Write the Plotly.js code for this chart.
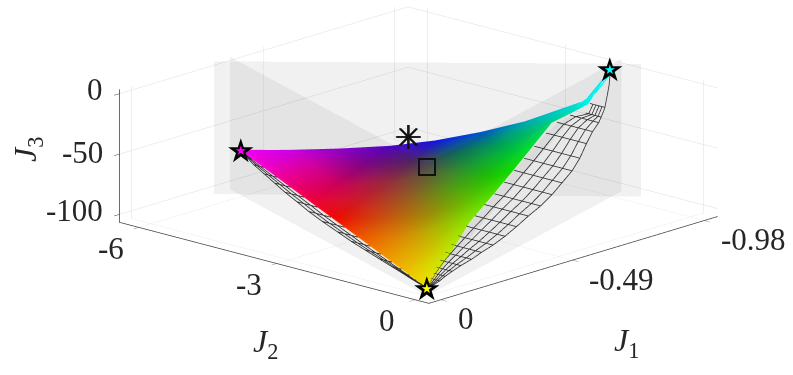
<!DOCTYPE html>
<html><head><meta charset="utf-8"><script src="https://cdn.plot.ly/plotly-3.0.1.min.js"></script>
<style>html,body{margin:0;padding:0;background:#fff}#c{width:793px;height:375px}</style></head><body><div id="c"></div>
<script>
// Extreme solutions (stars), ideal point (asterisk), nadir point (square)
const starJ1=[-0.333,0,-0.98], starJ2=[-6,0,-1.74], starJ3=[-68,-100,-2];
const starColors=['#ff00ff','#ffff00','#00ffff'];
const utopiaJ=[-0.98,-6.1,-100], nadirJ=[0,0,0];
// Translucent vertical planes through pairs of extreme solutions
const rectJ1=[-0.305,-1.029,-1.029,-0.305], rectJ2=[-6.41,-1.36,-1.36,-6.41], rectJ3=[-106.5,-106.5,3.4,3.4];
const sideLJ1=[-0.364,0,0,-0.364], sideLJ2=[-6.41,0,0,-6.41], sideLJ3=[-106.5,-106.5,3.4,3.4];
const sideRJ1=[-1.029,0,0,-1.029], sideRJ2=[-1.78,0,0,-1.78], sideRJ3=[-106.5,-106.5,3.4,3.4];
// Coloured front, triangular lattice listed row by row
const frontJ1=[0,
-0.0416,-0.142,
-0.083,-0.138,-0.282,
-0.125,-0.177,-0.261,-0.398,
-0.1665,-0.217,-0.277,-0.368,-0.514,
-0.208,-0.258,-0.315,-0.39,-0.475,-0.625,
-0.25,-0.299,-0.354,-0.418,-0.494,-0.579,-0.735,
-0.291,-0.34,-0.394,-0.453,-0.522,-0.597,-0.686,-0.83,
-0.333,-0.382,-0.434,-0.491,-0.553,-0.627,-0.709,-0.842,-0.98];
const frontJ2=[0,
-0.75,-0.347,
-1.5,-0.764,-0.727,
-2.25,-1.47,-1.019,-0.924,
-3,-2.209,-1.528,-1.21,-1.138,
-3.75,-2.956,-2.217,-1.75,-1.397,-1.347,
-4.5,-3.704,-2.94,-2.373,-1.911,-1.572,-1.555,
-5.25,-4.452,-3.677,-2.98,-2.457,-2.01,-1.623,-1.35,
-6,-5.199,-4.419,-3.67,-3.056,-2.507,-2.01,-1.485,-1.74];
const frontJ3=[-100,
-96,-85.8,
-92,-86.3,-71.8,
-88,-82.6,-74.1,-60.2,
-84,-78.8,-72.6,-63.3,-48.7,
-80,-74.8,-68.9,-61.2,-52.7,-37.6,
-76,-70.9,-65.2,-58.6,-50.8,-42.2,-26.5,
-72,-66.9,-61.3,-55.2,-48.2,-40.5,-31.5,-16.9,
-68,-62.9,-57.5,-51.6,-45.2,-37.7,-29.3,-15.75,-2];
const frontColors=['rgb(255,245,0)',
'rgb(255,195,0)','rgb(205,250,0)',
'rgb(255,145,0)','rgb(225,205,0)','rgb(150,245,0)',
'rgb(255,85,0)','rgb(225,150,5)','rgb(160,210,0)','rgb(85,240,0)',
'rgb(255,10,0)','rgb(215,85,15)','rgb(165,150,10)','rgb(100,205,0)','rgb(15,235,0)',
'rgb(255,0,60)','rgb(215,30,40)','rgb(160,100,35)','rgb(90,165,20)','rgb(30,205,5)','rgb(0,235,55)',
'rgb(255,0,130)','rgb(215,0,95)','rgb(160,45,65)','rgb(100,105,55)','rgb(30,165,50)','rgb(0,205,55)','rgb(0,230,120)',
'rgb(255,0,210)','rgb(225,0,160)','rgb(135,5,135)','rgb(85,40,100)','rgb(20,110,90)','rgb(0,160,100)','rgb(0,205,115)','rgb(0,245,225)',
'rgb(255,0,255)','rgb(215,0,240)','rgb(150,0,215)','rgb(85,5,200)','rgb(20,20,225)','rgb(0,85,205)','rgb(0,175,190)','rgb(0,240,235)','rgb(0,255,255)'];
// Thin upper rim of the coloured front
const rimJ1=[-0.311,-0.36,-0.412,-0.469,-0.531,-0.605,-0.687,-0.741,-0.796,-0.86,-0.917,-0.943];
const rimJ2=[-5.876,-5.076,-4.296,-3.546,-2.936,-2.386,-1.886,-1.549,-1.367,-1.353,-1.467,-1.526];
const rimJ3=[-65.3,-61,-56,-50.3,-44,-36.5,-28,-21.1,-15.5,-9,-3.3,-0.8];
const rimColors=['rgb(255,0,255)','rgb(215,0,240)','rgb(150,0,215)','rgb(85,5,200)','rgb(20,20,225)','rgb(0,85,205)','rgb(0,175,190)','rgb(0,215,215)','rgb(0,240,235)','rgb(0,250,245)','rgb(0,250,250)','rgb(0,255,255)'];
// Grey wire surface, right-hand part: J1 and J3 per row, J2 per row and column
const wireRJ1=[-0.836,-0.797,-0.774,-0.735,-0.685,-0.625,-0.571,-0.517,-0.464,-0.412,-0.363,-0.312,-0.266,-0.222,-0.184,-0.149,-0.115,-0.086,-0.061,-0.039,-0.018,0];
const wireRJ3=[-16.3,-20.2,-22.5,-26.4,-31.4,-37.4,-42.8,-48.2,-53.5,-58.8,-63.7,-68.7,-73.4,-77.8,-81.6,-85.1,-88.4,-91.4,-93.9,-96.1,-98.2,-100];
const wireRJ2=[
[-1.339,-1.273,-1.207,-1.141,-1.076,-1.01],
[-1.207,-1.139,-1.071,-1.002,-0.934,-0.866],
[-1.408,-1.284,-1.16,-1.035,-0.911,-0.787],
[-1.469,-1.314,-1.159,-1.003,-0.848,-0.693],
[-1.413,-1.237,-1.061,-0.886,-0.71,-0.534],
[-1.315,-1.118,-0.92,-0.723,-0.525,-0.328],
[-1.221,-1.013,-0.805,-0.596,-0.388,-0.18],
[-1.127,-0.919,-0.711,-0.502,-0.294,-0.086],
[-1.033,-0.825,-0.617,-0.409,-0.201,0.007],
[-0.94,-0.739,-0.538,-0.338,-0.137,0.064],
[-0.867,-0.677,-0.487,-0.297,-0.107,0.083],
[-0.778,-0.598,-0.418,-0.238,-0.058,0.122],
[-0.711,-0.541,-0.37,-0.2,-0.029,0.141],
[-0.627,-0.474,-0.321,-0.168,-0.015,0.138],
[-0.549,-0.418,-0.286,-0.155,-0.023,0.108],
[-0.477,-0.362,-0.248,-0.133,-0.019,0.096],
[-0.387,-0.297,-0.208,-0.118,-0.029,0.061],
[-0.302,-0.233,-0.164,-0.095,-0.026,0.043],
[-0.223,-0.171,-0.119,-0.068,-0.016,0.036],
[-0.148,-0.109,-0.07,-0.032,0.007,0.046],
[-0.075,-0.053,-0.032,-0.01,0.012,0.033],
[0,0,0,0,0,0]];
// Outer arc from the top of the wire surface to the cyan star
const tipJ1=[-0.835,-0.878,-0.92,-0.965], tipJ2=[-1.01,-1.212,-1.415,-1.654], tipJ3=[-16.35,-12.14,-7.94,-3.5];
// Grey wire surface, left-hand sliver
const wireLJ1=[-0.333,-0.314,-0.292,-0.268,-0.244,-0.22,-0.196,-0.171,-0.147,-0.123,-0.101,-0.082,-0.063,-0.046,-0.031,-0.019,-0.01,0];
const wireLJ3=[-68,-69.85,-71.94,-74.26,-76.58,-78.9,-81.22,-83.53,-85.85,-88.17,-90.26,-92.12,-93.97,-95.59,-96.99,-98.14,-99.07,-100];
const wireLJ2=[
[-6,-6,-6,-6],
[-5.652,-5.687,-5.721,-5.756],
[-5.26,-5.329,-5.399,-5.468],
[-4.826,-4.918,-5.011,-5.103],
[-4.391,-4.506,-4.622,-4.737],
[-3.956,-4.094,-4.233,-4.371],
[-3.521,-3.671,-3.821,-3.971],
[-3.087,-3.248,-3.41,-3.571],
[-2.652,-2.813,-2.975,-3.136],
[-2.217,-2.367,-2.517,-2.667],
[-1.826,-1.964,-2.103,-2.241],
[-1.478,-1.593,-1.709,-1.824],
[-1.13,-1.222,-1.315,-1.407],
[-0.826,-0.895,-0.965,-1.034],
[-0.565,-0.611,-0.657,-0.703],
[-0.348,-0.383,-0.417,-0.452],
[-0.174,-0.197,-0.22,-0.243],
[0,0,0,0]];
// Axes
const ticksJ1=[0,-0.49,-0.98], labelsJ1=['0','-0.49','-0.98'];
const ticksJ2=[0,-3,-6], labelsJ2=['0','-3','-6'];
const ticksJ3=[0,-50,-100], labelsJ3=['0','-50','-100'];
const rangeJ1=[-1.03,0.045], rangeJ2=[-6.42,0.3], rangeJ3=[-106.6,3.5];

const GREY_LINE='rgb(45,45,45)', TXT='rgb(38,38,38)', SERIF='Liberation Serif';
const flat={ambient:1,diffuse:0,specular:0,fresnel:0};
function quad(x,y,z){return {type:'mesh3d',x,y,z,i:[0,0],j:[1,2],k:[2,3],color:'rgb(0,0,0)',opacity:0.055,flatshading:true,lighting:flat,hoverinfo:'skip',showscale:false};}
const ti=[],tj=[],tk=[];const id=(r,c)=>r*(r+1)/2+c;
for(let r=0;r<8;r++)for(let c=0;c<=r;c++){ti.push(id(r,c));tj.push(id(r+1,c));tk.push(id(r+1,c+1));if(c<r){ti.push(id(r,c));tj.push(id(r+1,c+1));tk.push(id(r,c+1));}}
function wireTraces(J1,J2,J3){
  const n=J2[0].length, mx=[],my=[],mz=[],mi=[],mj=[],mk=[],mc=[];
  J2.forEach((row,r)=>row.forEach((v,c)=>{mx.push(J1[r]);my.push(v);mz.push(J3[r]-0.7);mc.push('rgb(232,232,232)');
    if(r<J2.length-1&&c<n-1){const a=r*n+c;mi.push(a,a);mj.push(a+1,a+n+1);mk.push(a+n+1,a+n);}}));
  const out=[{type:'mesh3d',x:mx,y:my,z:mz,i:mi,j:mj,k:mk,vertexcolor:mc,lighting:flat,hoverinfo:'skip',showscale:false}];
  const lx=[],ly=[],lz=[];
  J2.forEach((row,r)=>{row.forEach(v=>{lx.push(J1[r]);ly.push(v);lz.push(J3[r]);});lx.push(null);ly.push(null);lz.push(null);});
  for(let c=1;c<n;c++){J2.forEach((row,r)=>{lx.push(J1[r]);ly.push(row[c]);lz.push(J3[r]);});lx.push(null);ly.push(null);lz.push(null);}
  out.push({type:'scatter3d',mode:'lines',x:lx,y:ly,z:lz,connectgaps:false,line:{color:GREY_LINE,width:1.6},hoverinfo:'skip'});
  return out;
}
const data=[quad(rectJ1,rectJ2,rectJ3),quad(sideLJ1,sideLJ2,sideLJ3),quad(sideRJ1,sideRJ2,sideRJ3),
 ...wireTraces(wireRJ1,wireRJ2,wireRJ3),...wireTraces(wireLJ1,wireLJ2,wireLJ3),
 {type:'scatter3d',mode:'lines',x:tipJ1,y:tipJ2,z:tipJ3,line:{color:GREY_LINE,width:1.6},hoverinfo:'skip'},
 {type:'mesh3d',x:frontJ1,y:frontJ2,z:frontJ3,i:ti,j:tj,k:tk,vertexcolor:frontColors,lighting:flat,hoverinfo:'skip',showscale:false},
 {type:'scatter3d',mode:'lines',x:rimJ1,y:rimJ2,z:rimJ3,line:{color:rimColors,width:2.5},hoverinfo:'skip'}];

const axisCommon={showbackground:false,showspikes:false,zeroline:false,gridcolor:'rgb(222,222,222)',gridwidth:1,showline:true,linecolor:'rgb(60,60,60)',linewidth:1.5,ticks:'outside',ticklen:8,tickcolor:'rgb(60,60,60)',showticklabels:false,autorange:false,title:{text:''}};
const ann=[];
function txt(x,y,z,text,size,dx,dy,extra){ann.push(Object.assign({x,y,z,text,showarrow:false,xanchor:'center',yanchor:'middle',xshift:dx,yshift:-dy,font:{family:SERIF,size,color:TXT}},extra||{}));}
ticksJ1.forEach((v,i)=>txt(v,rangeJ2[1],rangeJ3[0],labelsJ1[i],31,i==0?25:49,19));
ticksJ2.forEach((v,i)=>txt(rangeJ1[1],v,rangeJ3[0],labelsJ2[i],31,-28,21));
ticksJ3.forEach((v,i)=>txt(rangeJ1[1],rangeJ2[0],v,labelsJ3[i],31,-15,i==1?-2:-4,{xanchor:'right'}));
txt(-0.49,rangeJ2[1],rangeJ3[0],'<i>J</i><sub>1</sub>',32,54,82);
txt(rangeJ1[1],-3,rangeJ3[0],'<i>J</i><sub>2</sub>',32,-12,80);
txt(rangeJ1[1],rangeJ2[0],-50,'<i>J</i><sub>3</sub>',32,-93,-5,{textangle:-90});
starJ1.forEach((v,i)=>{
  ann.push({x:v,y:starJ2[i],z:starJ3[i],text:'★',showarrow:false,xanchor:'center',yanchor:'middle',font:{family:'DejaVu Sans',size:33,color:'#000'}});
  ann.push({x:v,y:starJ2[i],z:starJ3[i],text:'★',showarrow:false,xanchor:'center',yanchor:'middle',font:{family:'DejaVu Sans',size:13,color:starColors[i]}});
});
[-0.3,0.3].forEach(s=>ann.push({x:utopiaJ[0],y:utopiaJ[1],z:utopiaJ[2],text:'✳',showarrow:false,xanchor:'center',yanchor:'middle',xshift:s-1,yshift:-2,font:{family:'DejaVu Sans',size:33,color:'#111'}}));
ann.push({x:nadirJ[0],y:nadirJ[1],z:nadirJ[2],text:'&nbsp;',showarrow:false,xanchor:'center',yanchor:'middle',width:14,height:14,borderpad:0,borderwidth:2,bordercolor:'#111',font:{size:4}});

const layout={width:793,height:375,margin:{l:0,r:0,t:0,b:0},paper_bgcolor:'#fff',showlegend:false,
scene:{domain:{x:[0.056,1],y:[0.184,1]},aspectmode:'manual',aspectratio:{x:2.765,y:2.765,z:0.905},annotations:ann,
camera:{projection:{type:'orthographic'},up:{x:0,y:0,z:1},center:{x:0,y:0,z:0},eye:{x:1.5,y:1.4,z:0.6}},
xaxis:Object.assign({},axisCommon,{range:rangeJ1,tickvals:ticksJ1}),
yaxis:Object.assign({},axisCommon,{range:rangeJ2,tickvals:ticksJ2}),
zaxis:Object.assign({},axisCommon,{range:rangeJ3,tickvals:ticksJ3})}};
Plotly.newPlot('c',data,layout,{displayModeBar:false});
</script></body></html>
